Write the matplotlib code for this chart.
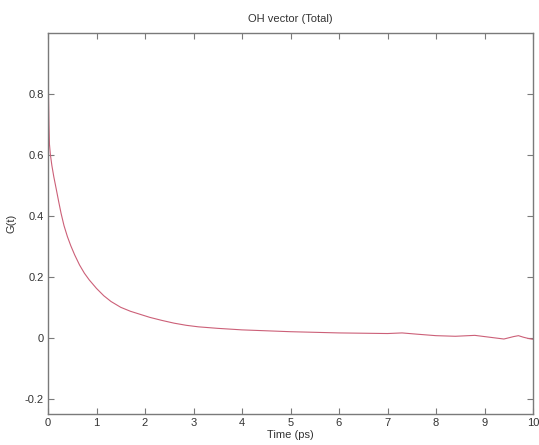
import matplotlib
matplotlib.use("Agg")
import matplotlib.pyplot as plt

plt.rcParams['font.family'] = ['Liberation Sans', 'DejaVu Sans']

time_ps = [0.0, 0.01, 0.02, 0.03, 0.05, 0.08, 0.12, 0.17, 0.22, 0.27, 0.33, 0.40,
           0.47, 0.55, 0.65, 0.75, 0.85, 1.0, 1.15, 1.3, 1.5, 1.7, 1.9, 2.1, 2.35,
           2.6, 2.85, 3.1, 3.5, 4.0, 4.5, 5.0, 5.5, 6.0, 6.5, 7.0, 7.3, 7.6, 8.0,
           8.4, 8.8, 9.0, 9.2, 9.4, 9.6, 9.7, 9.8, 9.9, 10.0]
g_t = [0.91, 0.80, 0.70, 0.635, 0.60, 0.565, 0.528, 0.488, 0.447, 0.408, 0.368, 0.332,
       0.302, 0.272, 0.239, 0.212, 0.19, 0.162, 0.138, 0.119, 0.100, 0.087, 0.077,
       0.067, 0.057, 0.048, 0.041, 0.036, 0.031, 0.026, 0.023, 0.020, 0.018, 0.016,
       0.015, 0.014, 0.016, 0.012, 0.007, 0.005, 0.008, 0.004, 0.0, -0.004, 0.004,
       0.007, 0.002, -0.002, -0.005]

x_ticks = list(range(0, 11))
y_ticks = [-0.2, 0, 0.2, 0.4, 0.6, 0.8]
y_tick_labels = ['-0.2', '0', '0.2', '0.4', '0.6', '0.8']

fig = plt.figure(figsize=(5.39, 4.45), dpi=100)
ax = fig.add_axes([48/539, 31/445, 485/539, 381/445])
ax.plot(time_ps, g_t, color='#cc6078', linewidth=0.8)
ax.set_xlim(0, 10)
ax.set_ylim(-0.25, 1.0)
ax.set_xticks(x_ticks)
ax.set_yticks(y_ticks)
ax.set_yticklabels(y_tick_labels)
axis_color = '#7a7a7a'
for s in ax.spines.values():
    s.set_color(axis_color)
    s.set_linewidth(1.0)
ax.tick_params(direction='in', length=4, width=0.8, colors=axis_color,
               labelcolor='#333333', labelsize=8, top=True, right=True, pad=3)
ax.set_title('OH vector (Total)', fontsize=8, color='#333333', pad=8)
ax.set_xlabel('Time (ps)', fontsize=8, color='#333333', labelpad=1)
ax.set_ylabel('G(t)', fontsize=8, color='#333333', labelpad=6)
fig.savefig('out.png', dpi=100)
